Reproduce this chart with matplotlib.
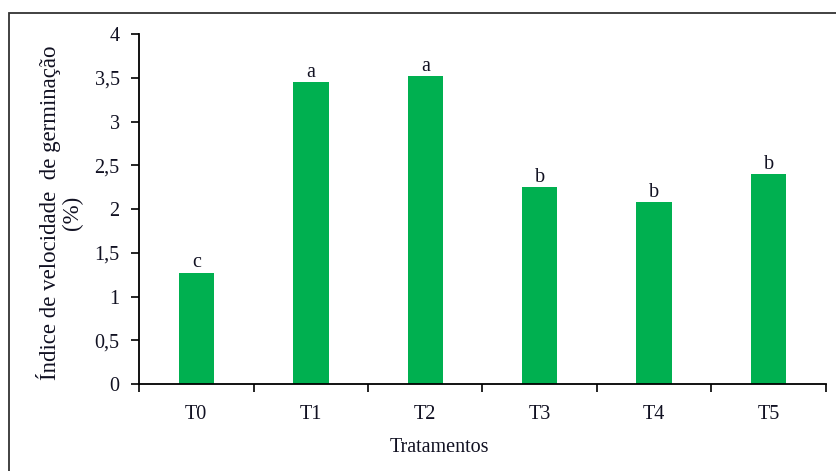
import matplotlib.pyplot as plt
from matplotlib.patches import Rectangle
from matplotlib.ticker import FixedLocator, FuncFormatter

plt.rcParams['font.family'] = ['Liberation Serif', 'DejaVu Serif']

# dados
tratamentos = ['T0', 'T1', 'T2', 'T3', 'T4', 'T5']
ivg = [1.27, 3.45, 3.52, 2.25, 2.08, 2.40]
letras = ['c', 'a', 'a', 'b', 'b', 'b']

fig = plt.figure(figsize=(8.36, 4.71), dpi=100)
ax = fig.add_axes([0.1663, 0.1847, 0.8217, 0.7431])

x = range(len(tratamentos))
ax.bar(x, ivg, width=0.31, color='#00B050', zorder=2)

for i, (v, l) in enumerate(zip(ivg, letras)):
    ax.text(i, v + 0.005, l, ha='center', va='bottom', fontsize=14.5, color='#111122')

ax.set_xlim(-0.5, len(tratamentos) - 0.5)
ax.set_ylim(0, 4)
ax.set_yticks([0, 0.5, 1, 1.5, 2, 2.5, 3, 3.5, 4])
ax.yaxis.set_major_formatter(FuncFormatter(lambda v, p: ('%g' % v).replace('.', ',')))
ax.set_xticks(list(x))
ax.set_xticklabels(tratamentos)
ax.xaxis.set_minor_locator(FixedLocator([i - 0.5 for i in range(len(tratamentos) + 1)]))
ax.tick_params(axis='x', which='major', length=0, pad=15, labelsize=14.5, labelcolor='#111122')
ax.tick_params(axis='x', which='minor', length=6, width=1.2, direction='out')
ax.tick_params(axis='y', length=6, width=1.2, direction='out', pad=8, labelsize=14.5, labelcolor='#111122')

for s in ['top', 'right']:
    ax.spines[s].set_visible(False)
for s in ['left', 'bottom']:
    ax.spines[s].set_linewidth(1.3)

ax.set_xlabel('Tratamentos', fontsize=14.5, color='#111122')
ax.xaxis.set_label_coords(0.438, -0.155)
ax.set_ylabel('Índice de velocidade  de germinação\n(%)', fontsize=16.5,
              color='#111122', linespacing=1.05)
ax.yaxis.set_label_coords(-0.0815, 0.49)

# moldura externa
fig.patches.append(Rectangle((9 / 836, -0.1), 1.0, 1 - 13 / 471 + 0.1, transform=fig.transFigure,
                             fill=False, edgecolor='#333333', linewidth=1.3))

fig.savefig('out.png', dpi=100)
